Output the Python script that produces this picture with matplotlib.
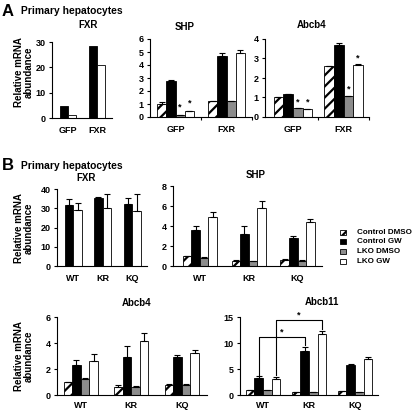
import numpy as np
import matplotlib
matplotlib.use('Agg')
import matplotlib.pyplot as plt
from matplotlib.patches import Rectangle

plt.rcParams['font.family'] = ['Liberation Sans', 'DejaVu Sans']
plt.rcParams['font.weight'] = 'bold'
plt.rcParams['hatch.linewidth'] = 1.6

W, H = 416, 411
GRAY = '#8c8c8c'

# ---- data ----
# panel A (GFP vs FXR adenovirus)
a_groups = ['GFP', 'FXR']
a_fxr_black = [4.7, 28.5]
a_fxr_white = [1.2, 21.0]

a_shp_hatch = [1.0, 1.2]
a_shp_hatch_err = [0.15, 0.05]
a_shp_black = [2.8, 4.7]
a_shp_black_err = [0.05, 0.2]
a_shp_gray = [0.15, 1.2]
a_shp_gray_err = [0.0, 0.03]
a_shp_white = [0.45, 4.95]
a_shp_white_err = [0.02, 0.2]

a_abcb4_hatch = [1.0, 2.6]
a_abcb4_hatch_err = [0.0, 0.0]
a_abcb4_black = [1.2, 3.7]
a_abcb4_black_err = [0.0, 0.12]
a_abcb4_gray = [0.45, 1.07]
a_abcb4_gray_err = [0.0, 0.03]
a_abcb4_white = [0.4, 2.65]
a_abcb4_white_err = [0.02, 0.05]

# panel B (WT / KR / KQ)
b_groups = ['WT', 'KR', 'KQ']
b_fxr_black = [31.5, 35.5, 32.0]
b_fxr_black_err = [3.5, 0.3, 3.5]
b_fxr_white = [29.0, 30.0, 28.5]
b_fxr_white_err = [3.5, 7.5, 9.0]

b_shp_hatch = [1.0, 0.55, 0.6]
b_shp_hatch_err = [0.05, 0.1, 0.1]
b_shp_black = [3.6, 3.2, 2.85]
b_shp_black_err = [0.4, 0.85, 0.15]
b_shp_gray = [0.85, 0.5, 0.55]
b_shp_gray_err = [0.03, 0.05, 0.05]
b_shp_white = [4.95, 5.85, 4.45]
b_shp_white_err = [0.45, 0.65, 0.3]

b_abcb4_hatch = [1.0, 0.65, 0.75]
b_abcb4_hatch_err = [0.03, 0.1, 0.1]
b_abcb4_black = [2.3, 2.9, 2.9]
b_abcb4_black_err = [0.4, 0.85, 0.15]
b_abcb4_gray = [1.25, 0.65, 0.8]
b_abcb4_gray_err = [0.03, 0.05, 0.05]
b_abcb4_white = [2.65, 4.15, 3.2]
b_abcb4_white_err = [0.5, 0.6, 0.3]

b_abcb11_hatch = [0.9, 0.6, 0.8]
b_abcb11_hatch_err = [0.05, 0.05, 0.05]
b_abcb11_black = [3.2, 8.5, 5.8]
b_abcb11_black_err = [0.4, 0.8, 0.15]
b_abcb11_gray = [0.9, 0.6, 0.6]
b_abcb11_gray_err = [0.03, 0.03, 0.03]
b_abcb11_white = [3.0, 11.8, 6.9]
b_abcb11_white_err = [0.5, 0.6, 0.35]

legend_labels = ['Control DMSO', 'Control GW', 'LKO DMSO', 'LKO GW']

STYLES = [dict(color='white', hatch='///'),
          dict(color='black'),
          dict(color=GRAY),
          dict(color='white')]


#Helpers#
def px_axes(left, right, top, bottom, xpad=6):
    ax = fig.add_axes([left / W, 1 - bottom / H, (right - left) / W, (bottom - top) / H])
    for s in ['top', 'right']:
        ax.spines[s].set_visible(False)
    ax.spines['left'].set_linewidth(0.8)
    ax.spines['bottom'].set_linewidth(0.8)
    ax.tick_params(axis='y', length=2.5, width=0.8, labelsize=6.5, pad=2)
    ax.tick_params(axis='x', which='major', length=0, labelsize=6.5, pad=xpad)
    ax.tick_params(axis='x', which='minor', length=2, width=0.8)
    return ax


def bars(ax, series, errs, styles, w):
    n = len(series)
    x = np.arange(len(series[0]))
    pos = []
    for i, (vals, st) in enumerate(zip(series, styles)):
        xi = x + (i - (n - 1) / 2) * w
        ax.bar(xi, vals, w, color=st['color'], hatch=st.get('hatch'),
               edgecolor='black', linewidth=0.6, zorder=2)
        if errs is not None and errs[i] is not None:
            e = np.array(errs[i])
            ax.errorbar(xi, vals, yerr=[np.zeros_like(e), e], fmt='none',
                        ecolor='black', elinewidth=0.8, capsize=2, capthick=0.8, zorder=3)
        pos.append(xi)
    return pos


def setup(ax, groups, xlim, ylim, step):
    ax.set_xlim(*xlim)
    ax.set_ylim(*ylim)
    ax.set_yticks(np.arange(ylim[0], ylim[1] + step / 2, step))
    ax.set_xticks(np.arange(len(groups)))
    ax.set_xticklabels(groups)
    ax.set_xticks(np.arange(len(groups)) + 0.5, minor=True)


def star(ax, x, y):
    ax.text(x, y, '*', ha='center', va='bottom', fontsize=6.5)


fig = plt.figure(figsize=(W / 100, H / 100), dpi=100)

# ---------------- Panel A ----------------
fig.text(2 / W, 1 - 11 / H, 'A', fontsize=12, va='center', ha='left')
fig.text(21 / W, 1 - 11 / H, 'Primary hepatocytes', fontsize=7.4, va='center', ha='left')

ax = px_axes(52, 112, 42, 118)
bars(ax, [a_fxr_black, a_fxr_white], None, [STYLES[1], STYLES[3]], 0.28)
setup(ax, a_groups, (-0.55, 1.52), (0, 30), 10)
ax.set_xticks([], minor=True)
fig.text(88 / W, 1 - 25 / H, 'FXR', fontsize=7, ha='center', va='center')
fig.text(24 / W, 1 - 72 / H, 'Relative mRNA\nabundance', fontsize=7, rotation=90,
         ha='center', va='center', linespacing=1.0)

ax = px_axes(150, 252, 39, 117)
p = bars(ax, [a_shp_hatch, a_shp_black, a_shp_gray, a_shp_white],
         [a_shp_hatch_err, a_shp_black_err, a_shp_gray_err, a_shp_white_err], STYLES, 0.18)
setup(ax, a_groups, (-0.5, 1.5), (0, 6), 1)
star(ax, p[2][0], 0.45)
star(ax, p[3][0], 0.7)
fig.text(185 / W, 1 - 27 / H, 'SHP', fontsize=7, ha='center', va='center')

ax = px_axes(265, 369, 39, 117)
p = bars(ax, [a_abcb4_hatch, a_abcb4_black, a_abcb4_gray, a_abcb4_white],
         [a_abcb4_hatch_err, a_abcb4_black_err, a_abcb4_gray_err, a_abcb4_white_err], STYLES, 0.19)
setup(ax, a_groups, (-0.55, 1.5), (0, 4), 1)
star(ax, p[2][0], 0.55)
star(ax, p[3][0], 0.55)
star(ax, p[2][1], 1.2)
star(ax, p[3][1], 2.8)
fig.text(312 / W, 1 - 25 / H, 'Abcb4', fontsize=7, ha='center', va='center')

# ---------------- Panel B ----------------
fig.text(2 / W, 1 - 165 / H, 'B', fontsize=12, va='center', ha='left')
fig.text(21 / W, 1 - 166 / H, 'Primary hepatocytes', fontsize=7.4, va='center', ha='left')

ax = px_axes(57, 147, 189, 266)
bars(ax, [b_fxr_black, b_fxr_white], [b_fxr_black_err, b_fxr_white_err],
     [STYLES[1], STYLES[3]], 0.29)
setup(ax, b_groups, (-0.55, 2.5), (0, 40), 10)
ax.set_xticks([], minor=True)
fig.text(86 / W, 1 - 178 / H, 'FXR', fontsize=7, ha='center', va='center')
fig.text(24 / W, 1 - 228 / H, 'Relative mRNA\nabundance', fontsize=7, rotation=90,
         ha='center', va='center', linespacing=1.0)

ax = px_axes(173, 322, 186, 266)
bars(ax, [b_shp_hatch, b_shp_black, b_shp_gray, b_shp_white],
     [b_shp_hatch_err, b_shp_black_err, b_shp_gray_err, b_shp_white_err], STYLES, 0.175)
setup(ax, b_groups, (-0.55, 2.5), (0, 8), 2)
ax.set_xticks([], minor=True)
fig.text(256 / W, 1 - 175 / H, 'SHP', fontsize=7, ha='center', va='center')

# legend
for i, (lab, st) in enumerate(zip(legend_labels, STYLES)):
    y = 232 + i * 9.7
    fig.patches.append(Rectangle((340 / W, 1 - (y + 2.5) / H), 6 / W, 5 / H,
                                 facecolor=st['color'], hatch=st.get('hatch'),
                                 edgecolor='black', linewidth=0.6,
                                 transform=fig.transFigure, figure=fig))
    fig.text(357 / W, 1 - y / H, lab, fontsize=5.8, ha='left', va='center')

ax = px_axes(57, 207, 317, 395, xpad=4)
bars(ax, [b_abcb4_hatch, b_abcb4_black, b_abcb4_gray, b_abcb4_white],
     [b_abcb4_hatch_err, b_abcb4_black_err, b_abcb4_gray_err, b_abcb4_white_err], STYLES, 0.17)
setup(ax, b_groups, (-0.47, 2.5), (0, 6), 2)
ax.set_xticks([], minor=True)
fig.text(137 / W, 1 - 303 / H, 'Abcb4', fontsize=7, ha='center', va='center')
fig.text(24 / W, 1 - 356 / H, 'Relative mRNA\nabundance', fontsize=7, rotation=90,
         ha='center', va='center', linespacing=1.0)

ax = px_axes(240, 378, 317, 395, xpad=4)
p = bars(ax, [b_abcb11_hatch, b_abcb11_black, b_abcb11_gray, b_abcb11_white],
         [b_abcb11_hatch_err, b_abcb11_black_err, b_abcb11_gray_err, b_abcb11_white_err], STYLES, 0.185)
setup(ax, b_groups, (-0.5, 2.5), (0, 15), 5)
ax.set_xticks([], minor=True)
# significance brackets
yb = 11.1
ax.plot([p[1][0], p[1][0], p[1][1], p[1][1]],
        [b_abcb11_black[0] + b_abcb11_black_err[0] + 0.3, yb, yb,
         b_abcb11_black[1] + b_abcb11_black_err[1] + 0.3],
        color='black', lw=0.8, clip_on=False)
star(ax, (p[1][0] + p[1][1]) / 2, yb + 0.1)
yt = 14.4
ax.plot([p[3][0], p[3][0], p[3][1], p[3][1]],
        [b_abcb11_white[0] + b_abcb11_white_err[0] + 0.3, yt, yt,
         b_abcb11_white[1] + b_abcb11_white_err[1] + 0.3],
        color='black', lw=0.8, clip_on=False)
star(ax, (p[3][0] + p[3][1]) / 2, yt + 0.1)
fig.text(322 / W, 1 - 302 / H, 'Abcb11', fontsize=7, ha='center', va='center')

fig.savefig('out.png', dpi=100)
